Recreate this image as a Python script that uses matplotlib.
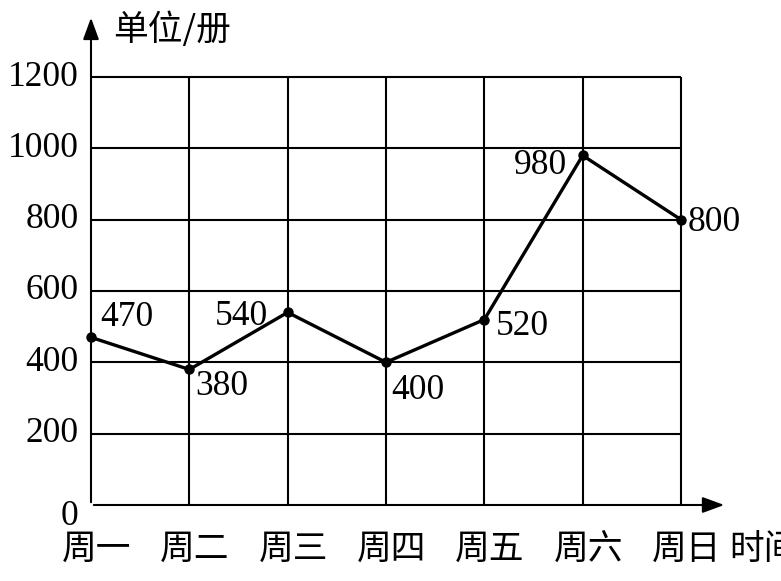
import matplotlib
matplotlib.use("Agg")
import matplotlib.pyplot as plt

days = ["周一", "周二", "周三", "周四", "周五", "周六", "周日"]
books = [470, 380, 540, 400, 520, 980, 800]
yticks = [0, 200, 400, 600, 800, 1000, 1200]
# where each value label sits next to its point (offset in points, alignment)
label_pos = [(7, 14, "left"), (4, -12, "left"), (-14, -3, "right"), (4, -20, "left"),
             (8, -5, "left"), (-11, -7, "right"), (5, -2, "left")]

num_font = "Liberation Serif"
cjk_font = "Noto Sans CJK SC"

fig = plt.figure(figsize=(7.81, 5.81), dpi=100)
ax = fig.add_axes([0, 0, 1, 1])
ax.set_xlim(-0.9254, 7.017)
ax.set_ylim(-213.1, 1415.9)
ax.axis("off")

xs = list(range(len(days)))
top = yticks[-1]

# grid
ax.hlines(yticks[1:], 0, xs[-1], color="black", lw=1.5)
ax.vlines(xs[1:], 0, top, color="black", lw=1.5)

# axes with arrows
ax.annotate("", xy=(6.468, 0), xytext=(0, 0),
            arrowprops=dict(arrowstyle="-|>,head_length=0.6,head_width=0.22",
                            color="black", lw=1.5, mutation_scale=22))
ax.annotate("", xy=(0, 1374), xytext=(0, 0),
            arrowprops=dict(arrowstyle="-|>,head_length=0.6,head_width=0.22",
                            color="black", lw=1.5, mutation_scale=22))

# line
ax.plot(xs, books, color="black", lw=2.4, marker="o", markersize=6.5, zorder=5)

for x, v, (dx, dy, ha) in zip(xs, books, label_pos):
    ax.annotate(str(v), xy=(x, v), xytext=(dx, dy), textcoords="offset points",
                ha=ha, va="center", fontsize=25.5, family=num_font)

for v in yticks:
    dy = -8 if v == 0 else 0
    ax.annotate(str(v), xy=(0, v), xytext=(-9, dy), textcoords="offset points",
                ha="right", va="center", fontsize=25.5, family=num_font)

for x, d in zip(xs, days):
    ax.annotate(d, xy=(x, 0), xytext=(4, -32), textcoords="offset points",
                ha="center", va="center", fontsize=25, family=cjk_font, fontweight="light")

ax.annotate("时间", xy=(6, 0), xytext=(35, -32), textcoords="offset points",
            ha="left", va="center", fontsize=25, family=cjk_font, fontweight="light")
ax.annotate("单位/册", xy=(0, top), xytext=(16, 34), textcoords="offset points",
            ha="left", va="center", fontsize=25, family=cjk_font, fontweight="light")

fig.savefig("out.png", dpi=100)
